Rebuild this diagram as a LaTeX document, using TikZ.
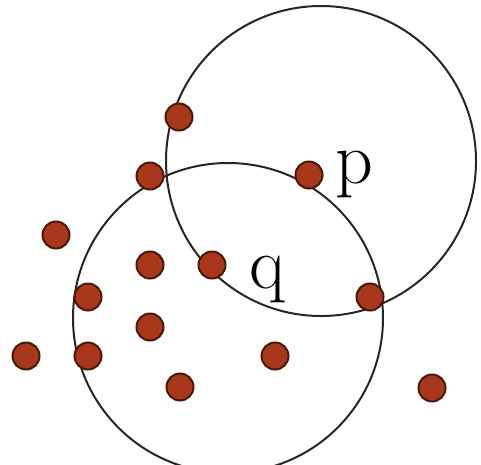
\documentclass[tikz,border=0pt]{standalone}
\begin{document}
\begin{tikzpicture}[x=1pt,y=-1pt,
  ring/.style={draw=black!85,line width=2pt},
  dot/.style={circle,fill=dotfill,draw=dotedge,line width=2pt,minimum size=27pt,inner sep=0pt},
  lbl/.style={font=\fontsize{74}{80}\selectfont,inner sep=0pt,anchor=base}]
\definecolor{dotfill}{HTML}{A8381C}
\definecolor{dotedge}{HTML}{4A1808}
\useasboundingbox (0,0) rectangle (481,464);
\clip (0,0) rectangle (481,464);
\fill[white] (0,0) rectangle (481,464);
\draw[ring] (321,161) circle (155pt);
\draw[ring] (228,318) circle (155pt);
\node[dot] (d1) at (179,117) {};
\node[dot] (d2) at (150,176) {};
\node[dot] (p) at (309,175) {};
\node[dot] (d4) at (56,235) {};
\node[dot] (d5) at (150,265) {};
\node[dot] (q) at (212,265) {};
\node[dot] (d7) at (88,297) {};
\node[dot] (d8) at (370,297) {};
\node[dot] (d9) at (150,327) {};
\node[dot] (d10) at (26,356) {};
\node[dot] (d11) at (88,356) {};
\node[dot] (d12) at (275,356) {};
\node[dot] (d13) at (180,387) {};
\node[dot] (d14) at (432,388) {};
\node[lbl] (lp) at (354,183) {p};
\node[lbl] (lq) at (267,288) {q};
\end{tikzpicture}
\end{document}
